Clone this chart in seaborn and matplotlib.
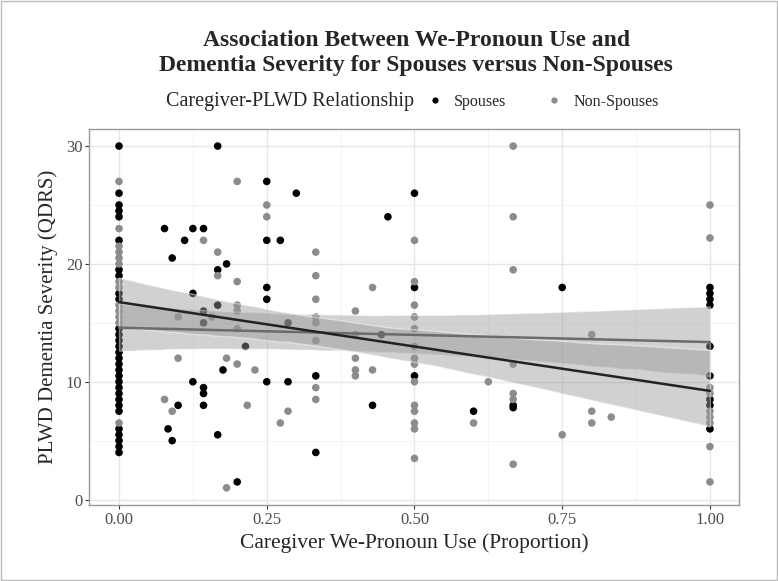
import numpy as np
import pandas as pd
import seaborn as sns
import matplotlib.pyplot as plt
from matplotlib.lines import Line2D
from matplotlib.ticker import MultipleLocator

# spouses
spouse_x = [0] * 30 + [
    0.077, 0.125, 0.143, 0.111, 0.25, 0.273, 0.09, 0.167, 0.25, 0.3,
    0.167, 0.182, 0.25, 0.25, 0.125, 0.167, 0.143, 0.143, 0.286, 0.214,
    0.176, 0.125, 0.25, 0.286, 0.143, 0.143, 0.1, 0.143, 0.083, 0.09,
    0.167, 0.2, 0.5, 0.455, 0.5, 0.444, 0.5, 0.333, 0.333, 0.429,
    0.6, 0.75, 0.667, 0.667,
    1, 1, 1, 1, 1, 1, 1, 1, 1]
spouse_y = [30, 26, 25, 24.5, 24, 22, 19.5, 19, 17.5, 17,
            14.5, 14, 13.5, 13, 12.5, 12, 11.5, 11, 10.5, 10,
            9.5, 9, 8.5, 8, 7.5, 6, 5.5, 5, 4.5, 4] + [
    23, 23, 23, 22, 22, 22, 20.5, 30, 27, 26,
    19.5, 20, 18, 17, 17.5, 16.5, 16, 15, 15, 13,
    11, 10, 10, 10, 9.5, 9, 8, 8, 6, 5,
    5.5, 1.5, 26, 24, 18, 14, 10.5, 10.5, 4, 8,
    7.5, 18, 8, 7.8,
    18, 17.5, 17, 16.5, 13, 10.5, 8.5, 8, 6]

# non-spouses
other_x = [0] * 13 + [
    0.2, 0.25, 0.25, 0.143, 0.167, 0.167, 0.2, 0.2, 0.2, 0.1,
    0.157, 0.2, 0.1, 0.182, 0.2, 0.23, 0.077, 0.09, 0.217, 0.286,
    0.273, 0.182, 0.5, 0.333, 0.333, 0.429, 0.5, 0.333, 0.4, 0.5,
    0.5, 0.333, 0.333, 0.5, 0.333, 0.4, 0.4, 0.4, 0.4, 0.429,
    0.5, 0.5, 0.5, 0.5, 0.5, 0.5, 0.5, 0.5, 0.5, 0.333,
    0.333, 0.6, 0.625, 0.667, 0.667, 0.667, 0.8, 0.667, 0.667, 0.667,
    0.667, 0.75, 0.8, 0.8, 0.833,
    1, 1, 1, 1, 1, 1, 1, 1, 1]
other_y = [27, 23, 21.5, 21, 20.5, 20, 18.5, 18, 16.5, 16, 15.5, 15, 6.5] + [
    27, 25, 24, 22, 21, 19, 18.5, 16.5, 16, 15.5,
    15.5, 14.5, 12, 12, 11.5, 11, 8.5, 7.5, 8, 7.5,
    6.5, 1, 22, 21, 19, 18, 18.5, 17, 16, 16.5,
    15.5, 15.5, 15, 14.5, 13.5, 14, 12, 11, 10.5, 11,
    13, 12, 11.5, 10, 8, 7.5, 6.5, 6, 3.5, 9.5,
    8.5, 6.5, 10, 30, 24, 19.5, 14, 11.5, 9, 8.5,
    3, 5.5, 7.5, 6.5, 7,
    25, 22.2, 9.5, 9, 7.5, 7, 6.5, 4.5, 1.5]

groups = ["Spouses", "Non-Spouses"]
point_colors = {"Spouses": "#000000", "Non-Spouses": "#8c8c8c"}
# the fitted lines use the grey scale in factor order (Non-Spouses darkest)
line_colors = {"Spouses": "#6b6b6b", "Non-Spouses": "#222222"}

df = pd.DataFrame({
    "we": spouse_x + other_x,
    "qdrs": spouse_y + other_y,
    "rel": ["Spouses"] * len(spouse_x) + ["Non-Spouses"] * len(other_x),
})

sns.set_theme(style="whitegrid")
plt.rcParams["font.family"] = ["Liberation Serif", "DejaVu Serif"]

fig = plt.figure(figsize=(7.78, 5.81), dpi=100)
ax = fig.add_axes([0.115, 0.131, 0.8355, 0.647])

sns.scatterplot(data=df, x="we", y="qdrs", hue="rel", palette=point_colors,
                s=30, linewidth=0, legend=False, ax=ax, zorder=2)

# regression lines with grey confidence bands
for g in groups:
    sub = df[df["rel"] == g]
    sns.regplot(data=sub, x="we", y="qdrs", scatter=False, ci=95, ax=ax,
                color=line_colors[g], line_kws={"linewidth": 1.8, "zorder": 4})
    band = ax.collections[-1]
    band.set_facecolor("#999999")
    band.set_alpha(0.45)
    band.set_zorder(3)

ax.set_xlim(-0.05, 1.05)
ax.set_ylim(-0.45, 31.45)
ax.xaxis.set_major_locator(MultipleLocator(0.25))
ax.xaxis.set_minor_locator(MultipleLocator(0.125))
ax.yaxis.set_major_locator(MultipleLocator(10))
ax.yaxis.set_minor_locator(MultipleLocator(5))
ax.set_xticks([0, 0.25, 0.5, 0.75, 1.0], ["0.00", "0.25", "0.50", "0.75", "1.00"])
ax.grid(which="major", color="#e6e6e6", linewidth=1.0)
ax.grid(which="minor", color="#f2f2f2", linewidth=0.6)
ax.tick_params(axis="both", which="major", labelsize=12, labelcolor="#4d4d4d",
               length=3, width=0.8, color="#333333", pad=2,
               bottom=True, left=True)
ax.tick_params(which="minor", length=0)
for sp in ax.spines.values():
    sp.set_color("#999999")
    sp.set_linewidth(1.0)

ax.set_xlabel("Caregiver We-Pronoun Use (Proportion)", fontsize=15.5, labelpad=4)
ax.set_ylabel("PLWD Dementia Severity (QDRS)", fontsize=15, labelpad=6)

fig.text(0.535, 0.948, "Association Between We-Pronoun Use and\n"
         "Dementia Severity for Spouses versus Non-Spouses",
         ha="center", va="top", fontsize=17, fontweight="bold",
         linespacing=1.25)

fig.text(0.214, 0.825, "Caregiver-PLWD Relationship", ha="left", va="center",
         fontsize=14.5)
handles = [Line2D([], [], marker="o", linestyle="", markersize=4.5,
                  markerfacecolor=point_colors[g], markeredgewidth=0,
                  label=g) for g in groups]
fig.legend(handles=handles, loc="center left", bbox_to_anchor=(0.53, 0.825),
           ncol=2, frameon=False, fontsize=11.5, handletextpad=0.7,
           columnspacing=2.5, handlelength=1.0)

fig.patches.append(plt.Rectangle((0.001, 0.001), 0.998, 0.998,
                                 transform=fig.transFigure, fill=False,
                                 edgecolor="#bbbbbb", linewidth=1))

fig.savefig("out.png", dpi=100, facecolor="white")
